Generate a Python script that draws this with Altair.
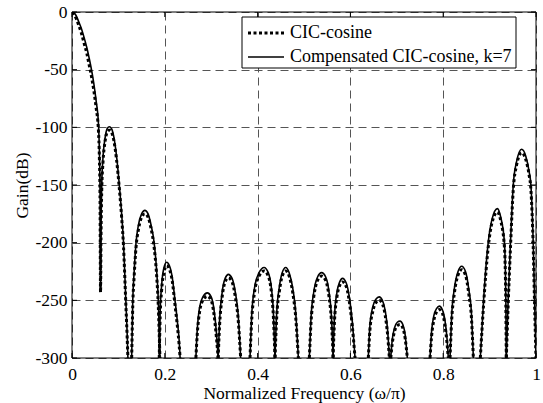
import altair as alt
import pandas as pd

# ---------------- data ----------------
X_TICKS = [0, 0.2, 0.4, 0.6, 0.8, 1]
Y_TICKS = [-300, -250, -200, -150, -100, -50, 0]
SERIES = ["CIC-cosine", "Compensated CIC-cosine, k=7"]
X_TITLE = "Normalized Frequency (ω/π)"
Y_TITLE = "Gain(dB)"

# x positions of the points of each visible lobe (normalized frequency)
LOBE_X = [
    [0.000, 0.005, 0.010, 0.015, 0.020, 0.026, 0.032, 0.037, 0.042, 0.047, 0.052, 0.057, 0.059, 0.0605,
     0.0615, 0.0625, 0.064, 0.067, 0.071, 0.076, 0.0805, 0.085, 0.090, 0.096, 0.102, 0.107, 0.111, 0.116,
     0.119, 0.1205],
    [0.1286, 0.131, 0.134, 0.138, 0.143, 0.150, 0.157, 0.164, 0.170, 0.177, 0.182, 0.186, 0.1895],
    [0.188, 0.190, 0.193, 0.198, 0.204, 0.210, 0.216, 0.222, 0.227, 0.231, 0.233],
    [0.267, 0.270, 0.275, 0.282, 0.2917, 0.300, 0.306, 0.311, 0.315],
    [0.315, 0.318, 0.323, 0.330, 0.337, 0.345, 0.352, 0.358, 0.3635],
    [0.3836, 0.387, 0.393, 0.403, 0.414, 0.423, 0.430, 0.434, 0.4375],
    [0.4375, 0.441, 0.447, 0.453, 0.4605, 0.468, 0.476, 0.482, 0.4878],
    [0.5115, 0.515, 0.521, 0.529, 0.538, 0.547, 0.554, 0.559, 0.563],
    [0.5625, 0.566, 0.571, 0.577, 0.583, 0.591, 0.598, 0.604, 0.610],
    [0.6386, 0.642, 0.648, 0.655, 0.662, 0.669, 0.675, 0.680, 0.684],
    [0.687, 0.690, 0.695, 0.701, 0.707, 0.713, 0.718, 0.7227],
    [0.7716, 0.775, 0.780, 0.786, 0.7917, 0.798, 0.804, 0.808, 0.811],
    [0.8147, 0.818, 0.824, 0.832, 0.8398, 0.848, 0.855, 0.861, 0.865],
    [0.880, 0.887, 0.897, 0.905, 0.9167, 0.924, 0.932, 0.935, 0.936],
    [0.936, 0.940, 0.945, 0.951, 0.958, 0.969, 0.978, 0.985, 0.989, 0.994, 0.997, 1.000],
]

# Compensated CIC-cosine, k=7 (solid line), dB
SOLID_DB = [
    [0, -1, -4, -9, -14, -22, -31, -40, -50, -62, -77, -97, -120, -160,
     -241, -190, -152, -125, -110, -101, -99.5, -101, -108, -125, -150, -175, -200, -250,
     -280, -300],
    [-300, -250, -225, -200, -185, -175, -172, -175, -184, -200, -222, -250, -300],
    [-300, -260, -238, -222, -217, -220, -230, -250, -268, -285, -300],
    [-300, -275, -256, -247, -243.5, -247, -258, -277, -300],
    [-300, -268, -245, -231, -227.5, -231, -243, -262, -300],
    [-300, -265, -240, -226, -221.5, -226, -240, -260, -300],
    [-300, -262, -238, -226, -221.5, -226, -240, -260, -300],
    [-300, -266, -243, -230, -226, -230, -243, -263, -300],
    [-300, -262, -243, -234, -231, -235, -248, -268, -300],
    [-300, -272, -256, -249, -247, -250, -259, -275, -300],
    [-300, -285, -274, -269, -268, -271, -280, -300],
    [-300, -277, -263, -257, -255, -258, -268, -282, -300],
    [-300, -265, -240, -225, -220.5, -225, -240, -262, -300],
    [-300, -250, -200, -180, -170.5, -178, -200, -250, -300],
    [-300, -250, -200, -150, -130, -119, -125, -138, -150, -200, -250, -300],
]

# CIC-cosine (dotted line), dB
DOTTED_DB = [
    [-0.5, -2.5, -6.5, -12, -18, -27, -36, -46, -56, -68, -83, -103, -126, -166,
     -243, -195, -156, -129, -113, -104, -102.5, -104, -111, -128, -153, -178, -203, -253,
     -283, -300],
    [-300, -254, -229, -204, -189, -178, -175, -178, -187, -204, -226, -255, -300],
    [-300, -264, -242, -226, -220, -223, -233, -254, -272, -289, -300],
    [-300, -279, -260, -250, -246.5, -250, -262, -281, -300],
    [-300, -272, -249, -234, -230.5, -234, -247, -266, -300],
    [-300, -269, -244, -229, -224.5, -229, -244, -264, -300],
    [-300, -266, -242, -229, -224.5, -229, -244, -264, -300],
    [-300, -270, -247, -233, -229, -233, -247, -267, -300],
    [-300, -266, -247, -237, -234, -238, -252, -272, -300],
    [-300, -276, -260, -252, -250, -253, -263, -279, -300],
    [-300, -288, -277, -272, -271, -274, -283, -300],
    [-300, -281, -267, -260, -258, -261, -272, -286, -300],
    [-300, -269, -244, -228, -223.5, -228, -244, -266, -300],
    [-300, -254, -204, -183, -173.5, -181, -204, -254, -300],
    [-300, -254, -204, -154, -133, -122, -128, -141, -154, -204, -254, -300],
]

# ---------------- layout / style ----------------
W, H = 464, 346
FONT = "Liberation Serif"
FS = 17.5

rows = []
for i, (xs, ss, ds) in enumerate(zip(LOBE_X, SOLID_DB, DOTTED_DB)):
    for x, s, d in zip(xs, ss, ds):
        rows.append({"x": x, "y": d, "series": SERIES[0], "lobe": i})
        rows.append({"x": x, "y": s, "series": SERIES[1], "lobe": i})
df = pd.DataFrame(rows)

xscale = alt.Scale(domain=[0, 1], nice=False, zero=False)
yscale = alt.Scale(domain=[-300, 0], nice=False, zero=False)

axis_common = dict(
    grid=True, gridDash=[8, 5], gridColor="#555555", gridWidth=1, gridOpacity=1,
    ticks=False, domain=False, labelFlush=False, labelOverlap=False,
    labelFont=FONT, labelFontSize=FS, labelColor="black",
    labelExpr="'' + datum.value",
    titleFont=FONT, titleFontSize=FS, titleFontWeight="normal", titleColor="black",
)

xaxis = alt.Axis(values=X_TICKS, labelPadding=7, title=X_TITLE, titlePadding=2, **axis_common)
yaxis = alt.Axis(values=Y_TICKS, labelPadding=5, title=Y_TITLE, titleX=-50, titleY=H / 2,
                 titleAngle=270, titleBaseline="middle", titleAlign="center", **axis_common)

solid = alt.Chart(df).transform_filter(alt.datum.series == SERIES[1]).mark_line(
    color="black", strokeWidth=1.6, interpolate="monotone", clip=True
).encode(
    x=alt.X("x:Q", scale=xscale, axis=xaxis),
    y=alt.Y("y:Q", scale=yscale, axis=yaxis),
    detail="lobe:N",
    order="x:Q",
)

dotted = alt.Chart(df).transform_filter(alt.datum.series == SERIES[0]).mark_line(
    color="black", strokeWidth=3, strokeDash=[3, 2.5], interpolate="monotone", clip=True
).encode(
    x=alt.X("x:Q", scale=xscale),
    y=alt.Y("y:Q", scale=yscale),
    detail="lobe:N",
    order="x:Q",
)

# inward tick marks on all four sides
TICK = 5
xt = pd.DataFrame({"t": X_TICKS})
yt = pd.DataFrame({"t": Y_TICKS})
tick_bottom = alt.Chart(xt).mark_rule(color="black", strokeWidth=1).encode(
    x=alt.X("t:Q", scale=xscale), y=alt.value(H), y2=alt.value(H - TICK))
tick_top = alt.Chart(xt).mark_rule(color="black", strokeWidth=1).encode(
    x=alt.X("t:Q", scale=xscale), y=alt.value(0), y2=alt.value(TICK))
tick_left = alt.Chart(yt).mark_rule(color="black", strokeWidth=1).encode(
    y=alt.Y("t:Q", scale=yscale), x=alt.value(0), x2=alt.value(TICK))
tick_right = alt.Chart(yt).mark_rule(color="black", strokeWidth=1).encode(
    y=alt.Y("t:Q", scale=yscale), x=alt.value(W), x2=alt.value(W - TICK))

one = pd.DataFrame({"k": [0]})
LEG_X0, LEG_X1, LEG_Y0, LEG_Y1 = 170, 444, 5, 56
ROW1, ROW2 = 21, 45
SAMPLE_X0, SAMPLE_X1, TEXT_X = 176, 212, 218

leg_box = alt.Chart(one).mark_rect(fill="white", stroke="black", strokeWidth=1).encode(
    x=alt.value(LEG_X0), x2=alt.value(LEG_X1), y=alt.value(LEG_Y0), y2=alt.value(LEG_Y1))
leg_dot = alt.Chart(one).mark_rule(color="black", strokeWidth=3, strokeDash=[3, 2.5]).encode(
    x=alt.value(SAMPLE_X0), x2=alt.value(SAMPLE_X1), y=alt.value(ROW1))
leg_sol = alt.Chart(one).mark_rule(color="black", strokeWidth=1.6).encode(
    x=alt.value(SAMPLE_X0), x2=alt.value(SAMPLE_X1), y=alt.value(ROW2))
leg_t1 = alt.Chart(one).mark_text(align="left", baseline="middle", font=FONT, fontSize=18,
                                  color="black").encode(
    x=alt.value(TEXT_X), y=alt.value(ROW1), text=alt.value(SERIES[0]))
leg_t2 = alt.Chart(one).mark_text(align="left", baseline="middle", font=FONT, fontSize=18,
                                  color="black").encode(
    x=alt.value(TEXT_X), y=alt.value(ROW2), text=alt.value(SERIES[1]))

frame = alt.Chart(one).mark_rect(fill="transparent", stroke="black", strokeWidth=1).encode(
    x=alt.value(0), x2=alt.value(W), y=alt.value(0), y2=alt.value(H))

chart = alt.layer(
    solid, dotted, tick_bottom, tick_top, tick_left, tick_right,
    leg_box, leg_dot, leg_sol, leg_t1, leg_t2, frame
).properties(
    width=W, height=H,
    autosize=alt.AutoSizeParams(type="none"),
    padding={"left": 72, "top": 12, "right": 7, "bottom": 45},
    background="white",
).configure_view(stroke=None)

chart.save("out.html", embed_options={"renderer": "svg", "actions": False})
